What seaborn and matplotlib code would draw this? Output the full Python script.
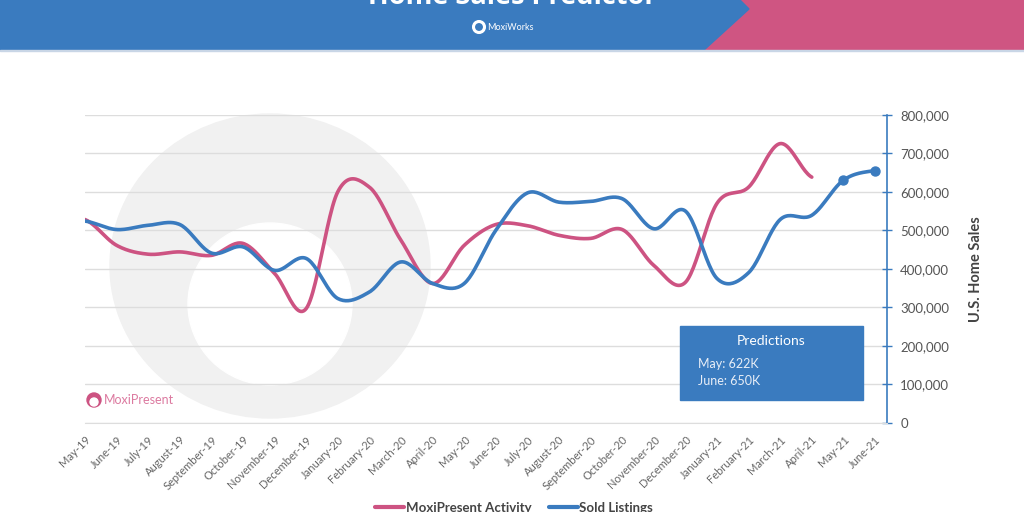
import numpy as np
import pandas as pd
import seaborn as sns
import matplotlib.pyplot as plt
from matplotlib.patches import Polygon, Ellipse, Rectangle
from matplotlib.lines import Line2D

months = ["May-19", "June-19", "July-19", "August-19", "September-19", "October-19",
          "November-19", "December-19", "January-20", "February-20", "March-20", "April-20",
          "May-20", "June-20", "July-20", "August-20", "September-20", "October-20",
          "November-20", "December-20", "January-21", "February-21", "March-21", "April-21",
          "May-21", "June-21"]

moxi_activity = [528000, 461000, 438000, 444000, 435000, 466000, 388000, 297000,
                 600000, 612000, 474000, 362000, 461000, 515000, 512000, 487000,
                 479000, 502000, 409000, 365000, 570000, 612000, 725000, 638000]

sold_listings = [524000, 502000, 513000, 515000, 441000, 457000, 396000, 427000,
                 323000, 340000, 418000, 362000, 362000, 500000, 597000, 573000,
                 575000, 582000, 504000, 550000, 375000, 390000, 528000, 539000,
                 630000, 655000]

pred_labels = ["May: 622K", "June: 650K"]

PINK = "#cd5382"
BLUE = "#3a7bbf"


def catmull_rom(vals, n=24):
    # uniform catmull-rom spline through the points
    v = np.asarray(vals, dtype=float)
    xs, ys = [], []
    for i in range(len(v) - 1):
        p0 = v[i - 1] if i > 0 else v[i]
        p1, p2 = v[i], v[i + 1]
        p3 = v[i + 2] if i + 2 < len(v) else v[i + 1]
        t = np.linspace(0, 1, n, endpoint=False)
        y = 0.5 * (2 * p1 + (-p0 + p2) * t + (2 * p0 - 5 * p1 + 4 * p2 - p3) * t ** 2
                   + (-p0 + 3 * p1 - 3 * p2 + p3) * t ** 3)
        xs.append(i + t)
        ys.append(y)
    xs.append([len(v) - 1])
    ys.append([v[-1]])
    return np.concatenate(xs), np.concatenate(ys)


mx, my = catmull_rom(moxi_activity)
sx, sy = catmull_rom(sold_listings)
df = pd.concat([
    pd.DataFrame({"x": mx, "value": my, "series": "MoxiPresent Activity"}),
    pd.DataFrame({"x": sx, "value": sy, "series": "Sold Listings"}),
])

sns.set_style("white")
plt.rcParams["font.family"] = ["Lato", "DejaVu Sans"]

fig = plt.figure(figsize=(10.24, 5.12), dpi=100)

W, H = 1024, 512
def fx(px): return px / W
def fy(py): return 1 - py / H

# header banner
fig.patches.append(Rectangle((0, fy(50)), 1, 50 / H, transform=fig.transFigure,
                             color="#cf5582", zorder=-2))
fig.patches.append(Polygon([(0, fy(0)), (fx(740), fy(0)), (fx(749), fy(9)), (fx(704), fy(50)),
                            (0, fy(50))], closed=True, transform=fig.transFigure,
                           color=BLUE, zorder=-2))
fig.patches.append(Rectangle((0, fy(51)), 1, 1.2 / H, transform=fig.transFigure,
                             color="#c9d6e6", zorder=-2))
fig.text(0.5, fy(4), "Home Sales Predictor", color="white", fontsize=19.5, fontweight="bold",
         ha="center", va="baseline", family=["Open Sans", "DejaVu Sans"])
fig.patches.append(Ellipse((fx(479), fy(27)), 11 / W, 11 / H, transform=fig.transFigure,
                           facecolor="none", edgecolor="white", lw=2.2))
fig.text(fx(487), fy(27), "MoxiWorks", color="white", fontsize=6.5, ha="left", va="center")

# watermark ring
fig.patches.append(Ellipse((fx(270), fy(266)), 320 / W, 304 / H, transform=fig.transFigure,
                           color="#f1f1f1", zorder=-1))
fig.patches.append(Ellipse((fx(270), fy(304)), 164 / W, 162 / H, transform=fig.transFigure,
                           color="white", zorder=-1))

ax = fig.add_axes([fx(85), fy(423), fx(887) - fx(85), fy(114.7) - fy(423)])
ax.patch.set_alpha(0)

sns.lineplot(data=df, x="x", y="value", hue="series", palette=[PINK, BLUE],
             linewidth=2.6, ax=ax, legend=False, sort=False, estimator=None)
ax.scatter([24, 25], sold_listings[24:], color=BLUE, s=42, zorder=5)

ax.set_xlim(0, 25.38)
ax.set_ylim(0, 800000)
ax.set_yticks(np.arange(0, 800001, 100000))
ax.yaxis.tick_right()
ax.yaxis.set_label_position("right")
ax.set_yticklabels([f"{v:,}" for v in range(0, 800001, 100000)], color="#555555", fontsize=9.5)
ax.tick_params(axis="y", direction="inout", length=7, width=1, color=BLUE, pad=6)
ax.set_ylabel("U.S. Home Sales", fontsize=10.5, fontweight="bold", color="#444444", labelpad=14)
ax.grid(axis="y", color="#dddddd", lw=1)

ax.set_xticks(range(len(months)))
ax.set_xticklabels(months, rotation=45, ha="right", rotation_mode="anchor",
                   fontsize=8, color="#666666")
ax.tick_params(axis="x", length=5, color="#dddddd", pad=3)
ax.set_xlabel("")

for s in ["top", "left"]:
    ax.spines[s].set_visible(False)
ax.spines["right"].set_color(BLUE)
ax.spines["right"].set_linewidth(1.2)
ax.spines["bottom"].set_color("#dddddd")

# MoxiPresent logo
fig.patches.append(Ellipse((fx(94), fy(400)), 14 / W, 14 / H, transform=fig.transFigure,
                           color=PINK, zorder=3))
fig.patches.append(Ellipse((fx(94), fy(402)), 8 / W, 8 / H, transform=fig.transFigure,
                           color="white", zorder=3))
fig.text(fx(104), fy(400), "MoxiPresent", color="#dc7aa0", fontsize=9, ha="left",
         va="center", zorder=4)

# predictions box
fig.patches.append(Rectangle((fx(680), fy(400)), 183 / W, 74 / H, transform=fig.transFigure,
                             color=BLUE, zorder=4))
fig.text(fx(771), fy(341), "Predictions", color="white", fontsize=10, ha="center",
         va="center", zorder=5)
for i, lbl in enumerate(pred_labels):
    fig.text(fx(698), fy(364 + 17 * i), lbl, color="#e8eef7", fontsize=9, ha="left",
             va="center", zorder=5)

handles = [Line2D([0], [0], color=PINK, lw=3), Line2D([0], [0], color=BLUE, lw=3)]
fig.legend(handles, ["MoxiPresent Activity", "Sold Listings"], loc="center",
           bbox_to_anchor=(fx(514), fy(508)), ncol=2, frameon=False, handlelength=2.2,
           handletextpad=0.1, columnspacing=1.3,
           prop={"weight": "bold", "size": 9.5}, labelcolor="#444444")

fig.savefig("out.png", dpi=100)
plt.close(fig)
